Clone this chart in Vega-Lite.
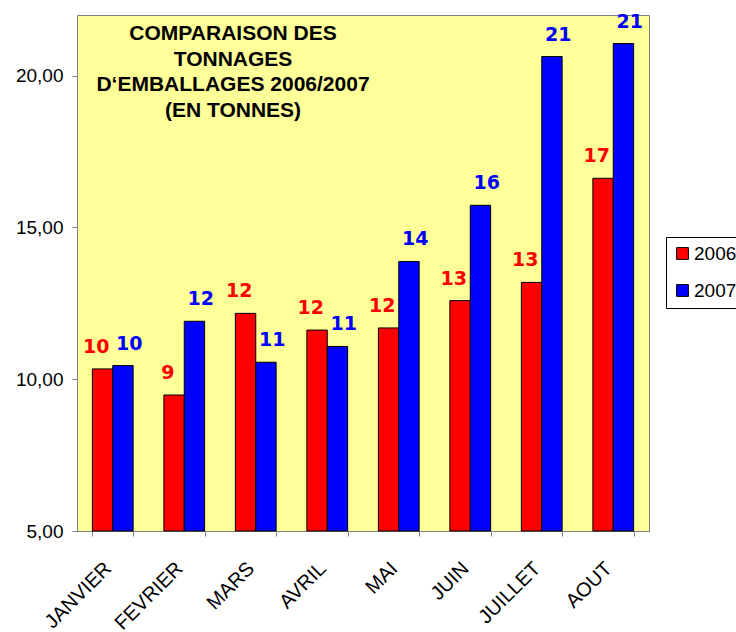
{
  "$schema": "https://vega.github.io/schema/vega-lite/v6.json",
  "width": 572,
  "height": 516,
  "autosize": {"type": "none"},
  "padding": {"left": 77, "top": 15, "right": 87, "bottom": 101},
  "background": "white",
  "config": {
    "view": {"fill": "#FFFF99", "stroke": "#808080", "strokeWidth": 1},
    "font": "Liberation Sans"
  },
  "title": {
    "text": ["COMPARAISON DES", "TONNAGES", "D‘EMBALLAGES 2006/2007", "(EN TONNES)"],
    "anchor": "start",
    "align": "center",
    "dx": 156,
    "fontSize": 21,
    "fontWeight": "bold",
    "font": "Liberation Sans",
    "color": "black",
    "lineHeight": 25.5,
    "baseline": "top",
    "offset": 0,
    "dy": 108,
    "frame": "group"
  },
  "data": {
    "values": [
      {"month": "JANVIER", "year": "2006", "value": 10.34},
      {"month": "JANVIER", "year": "2007", "value": 10.45},
      {"month": "FEVRIER", "year": "2006", "value": 9.48},
      {"month": "FEVRIER", "year": "2007", "value": 11.91},
      {"month": "MARS", "year": "2006", "value": 12.17},
      {"month": "MARS", "year": "2007", "value": 10.56},
      {"month": "AVRIL", "year": "2006", "value": 11.62},
      {"month": "AVRIL", "year": "2007", "value": 11.08},
      {"month": "MAI", "year": "2006", "value": 11.69},
      {"month": "MAI", "year": "2007", "value": 13.88},
      {"month": "JUIN", "year": "2006", "value": 12.59},
      {"month": "JUIN", "year": "2007", "value": 15.73},
      {"month": "JUILLET", "year": "2006", "value": 13.19},
      {"month": "JUILLET", "year": "2007", "value": 20.63},
      {"month": "AOUT", "year": "2006", "value": 16.62},
      {"month": "AOUT", "year": "2007", "value": 21.06}
    ]
  },
  "encoding": {
    "x": {
      "field": "month",
      "type": "nominal",
      "sort": ["JANVIER", "FEVRIER", "MARS", "AVRIL", "MAI", "JUIN", "JUILLET", "AOUT"],
      "scale": {"paddingInner": 0.43, "paddingOuter": 0.215},
      "axis": {
        "title": null,
        "labelAngle": -45,
        "labelAlign": "right",
        "labelBaseline": "top",
        "labelFontSize": 20,
        "labelColor": "black",
        "tickBand": "extent",
        "tickSize": 5,
        "tickColor": "#808080",
        "domainColor": "#808080",
        "labelPadding": 22,
        "labelOffset": -12
      }
    },
    "y": {
      "field": "value",
      "type": "quantitative",
      "scale": {"domain": [5, 22], "zero": false, "nice": false},
      "axis": {
        "title": null,
        "values": [5, 10, 15, 20],
        "labelExpr": "replace(format(datum.value, '.2f'), '.', ',')",
        "labelFontSize": 19,
        "labelColor": "black",
        "tickSize": 5,
        "tickColor": "#808080",
        "domainColor": "#808080",
        "labelPadding": 9,
        "grid": false
      }
    }
  },
  "layer": [
    {
      "mark": {"type": "bar", "stroke": "black", "strokeWidth": 1},
      "encoding": {
        "xOffset": {"field": "year", "type": "nominal"},
        "y2": {"datum": 5},
        "color": {
          "field": "year",
          "type": "nominal",
          "scale": {"domain": ["2006", "2007"], "range": ["#FF0000", "#0000FF"]},
          "legend": {
            "title": null,
            "orient": "none",
            "legendX": 589,
            "legendY": 222,
            "strokeColor": "black",
            "fillColor": "white",
            "padding": 7,
            "rowPadding": 17,
            "symbolType": "square",
            "symbolSize": 140,
            "symbolStrokeColor": "black",
            "symbolStrokeWidth": 1,
            "symbolOpacity": 1,
            "labelFontSize": 19,
            "labelOffset": 2,
            "labelColor": "black"
          }
        }
      }
    },
    {
      "mark": {"type": "text", "baseline": "bottom", "dy": -12, "font": "DejaVu Sans", "fontWeight": "bold", "fontSize": 19},
      "encoding": {
        "xOffset": {"field": "year", "type": "nominal", "scale": {"type": "point", "padding": 0.12}},
        "text": {"field": "value", "type": "quantitative", "format": ".0f"},
        "color": {"field": "year", "type": "nominal", "legend": null}
      }
    }
  ],
  "resolve": {"scale": {"xOffset": "independent"}}
}
